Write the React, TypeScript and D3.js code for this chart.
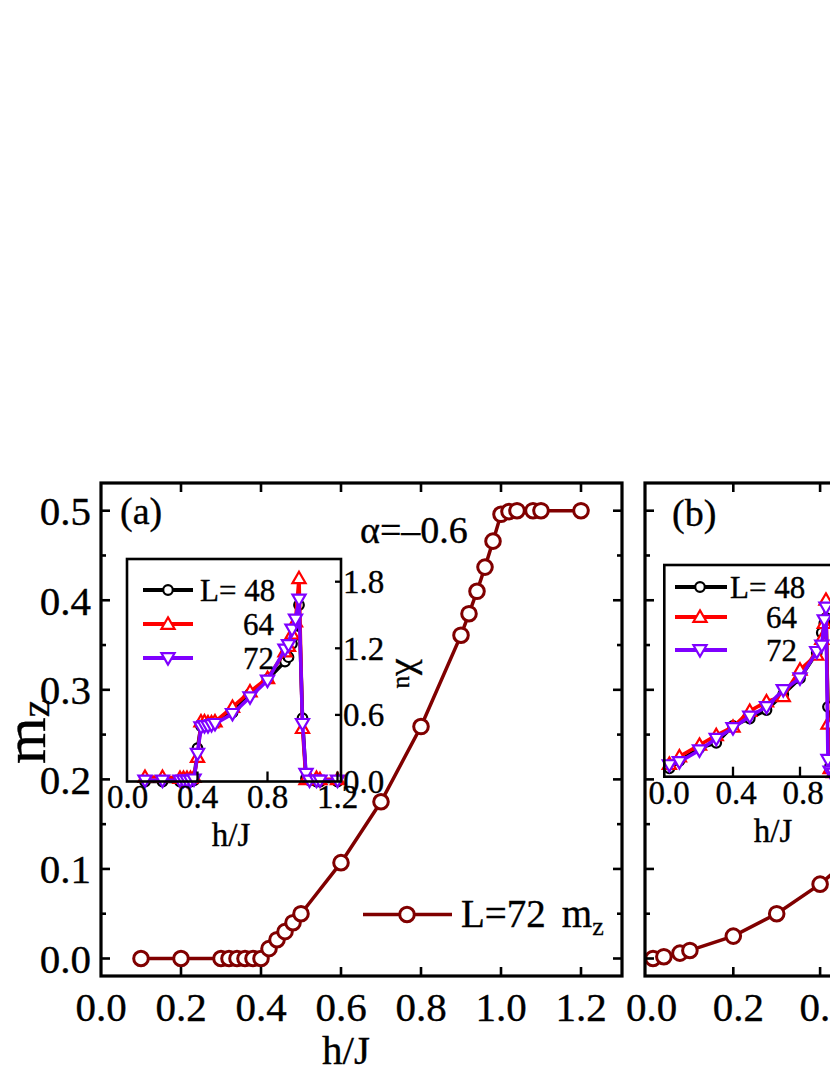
import React from "react";
import * as d3 from "d3";

// ---------- data ----------
const hA = [0.1, 0.2, 0.3, 0.32, 0.34, 0.36, 0.38, 0.4, 0.42, 0.44, 0.46, 0.48, 0.5, 0.6, 0.7, 0.8, 0.9, 0.92, 0.94, 0.96, 0.98, 1.0, 1.02, 1.04, 1.08, 1.1, 1.2];
const mzA = [0, 0, 0, 0, 0, 0, 0, 0, 0.011, 0.021, 0.03, 0.04, 0.05, 0.107, 0.175, 0.259, 0.361, 0.385, 0.41, 0.437, 0.466, 0.496, 0.499, 0.5, 0.5, 0.5, 0.5];
const chiA48 = [0, 0, 0, 0, 0, 0, 0.01, 0.3, 0.5, 0.51, 0.52, 0.52, 0.53, 0.62, 0.79, 0.92, 1.08, 1.12, 1.24, 1.32, 1.59, 0.57, 0.03, 0.01, 0, 0, 0];
const chiA64 = [0.04, 0.04, 0.03, 0.03, 0.03, 0.03, 0.04, 0.22, 0.54, 0.54, 0.53, 0.53, 0.54, 0.67, 0.81, 0.93, 1.17, 1.22, 1.33, 1.44, 1.83, 0.48, 0.02, 0.03, 0.03, 0.02, 0.02];
const chiA72 = [0.01, 0.01, 0.01, 0.01, 0.01, 0.01, 0.02, 0.25, 0.49, 0.5, 0.5, 0.51, 0.52, 0.61, 0.76, 0.91, 1.19, 1.23, 1.37, 1.46, 1.64, 0.52, 0.07, 0.01, 0.01, 0.01, 0.01];

const hB = [0.015, 0.04, 0.077, 0.1, 0.2, 0.3, 0.4, 0.5];
const mzB = [0.0, 0.002, 0.006, 0.009, 0.025, 0.05, 0.083, 0.125];
const hIB = [0.02, 0.08, 0.2, 0.3, 0.4, 0.5, 0.6, 0.7, 0.8, 0.9, 0.93, 0.945, 0.955, 0.967, 0.98, 1.0, 1.1, 1.2];
const chiB48 = [0.08, 0.15, 0.27, 0.32, 0.48, 0.55, 0.63, 0.78, 0.93, 1.17, 1.36, 1.45, 1.5, 0.66, 0.1, 0.04, 0.02, 0.02];
const chiB64 = [0.12, 0.19, 0.3, 0.39, 0.47, 0.62, 0.71, 0.76, 1.01, 1.15, 1.3, 1.45, 1.67, 0.5, 0.08, 0.04, 0.02, 0.02];
const chiB72 = [0.11, 0.14, 0.25, 0.36, 0.46, 0.57, 0.66, 0.82, 0.93, 1.18, 1.24, 1.48, 1.6, 0.16, 0.05, 0.03, 0.02, 0.02];

const mainYTicks = [0, 0.1, 0.2, 0.3, 0.4, 0.5];
const mainYMinor = [0.05, 0.15, 0.25, 0.35, 0.45];
const mainXTicksA = [0.0, 0.2, 0.4, 0.6, 0.8, 1.0, 1.2];
const mainXTicksB = [0.0, 0.2, 0.4, 0.6];
const insetXTicks = [0.0, 0.4, 0.8, 1.2];
const insetYTicks = [0.0, 0.6, 1.2, 1.8];
const legendSizes = ["L= 48", "64", "72"];

// ---------- style ----------
const FONT = "'Liberation Serif', 'Times New Roman', serif";
const DARK = "#800000";
const COLS = ["#000000", "#ff0000", "#7f00ff"];

const triPath = d3.symbol(d3.symbolTriangle, 75)() as string;

function Marker({ kind, x, y, color }: { kind: number; x: number; y: number; color: string }) {
  if (kind === 0) return <circle cx={x} cy={y} r={4.8} fill="#fff" stroke={color} strokeWidth={2.2} />;
  const rot = kind === 2 ? 180 : 0;
  return <path d={triPath} transform={`translate(${x},${y + (kind === 2 ? -1 : 1)}) rotate(${rot})`} fill="#fff" stroke={color} strokeWidth={2.2} />;
}

export default function App() {
  const aL = 101, aR = 622, top = 483, bot = 976;
  const xA = d3.scaleLinear().domain([0, 1.3]).range([101, 621]);
  const yM = d3.scaleLinear().domain([0, 0.5]).range([958.5, 510.7]);
  const bL = 645, bR = 1166;
  const xB = d3.scaleLinear().domain([0, 0.2]).range([646.5, 733.3]);
  const iaL = 127, iaR = 341, iaT = 559, iaB = 781.5;
  const xIA = d3.scaleLinear().domain([0, 1.2]).range([127.5, 337.5]);
  const yIA = d3.scaleLinear().domain([0, 1.8]).range([781.5, 581.7]);
  const ibL = 664.3, ibR = 878, ibT = 565, ibB = 776.7;
  const xIB = d3.scaleLinear().domain([0, 0.4]).range([666, 733]);
  const yIB = d3.scaleLinear().domain([0, 2]).range([776.7, 565]);

  const lineA = d3.line<number>().x((_, i) => xA(hA[i])).y((d) => yM(d));
  const lineB = d3.line<number>().x((_, i) => xB(hB[i])).y((d) => yM(d));
  const lineIA = d3.line<number>().x((_, i) => xIA(hA[i])).y((d) => yIA(d));
  const lineIB = d3.line<number>().x((_, i) => xIB(hIB[i])).y((d) => yIB(d));

  const seriesA = [chiA48, chiA64, chiA72];
  const seriesB = [chiB48, chiB64, chiB72];

  const mainYTickMarks = (xl: number, xr: number | null) => (
    <g stroke="#000" strokeWidth={2.6}>
      {mainYTicks.map((t) => (
        <g key={"M" + t}>
          <line x1={xl} x2={xl + 9} y1={yM(t)} y2={yM(t)} />
          {xr !== null && <line x1={xr} x2={xr - 9} y1={yM(t)} y2={yM(t)} />}
        </g>
      ))}
      {mainYMinor.map((t) => (
        <g key={"m" + t}>
          <line x1={xl} x2={xl + 5} y1={yM(t)} y2={yM(t)} />
          {xr !== null && <line x1={xr} x2={xr - 5} y1={yM(t)} y2={yM(t)} />}
        </g>
      ))}
    </g>
  );

  const txt = { stroke: "#000", strokeWidth: 0.35 };

  return (
    <svg width={830} height={1075} style={{ position: "absolute", left: 0, top: 0, background: "#fff" }} fontFamily={FONT}>
      <rect x={0} y={0} width={830} height={1075} fill="#fff" />

      {/* ================= panel (a) ================= */}
      <g>
        <path d={lineA(mzA) as string} fill="none" stroke={DARK} strokeWidth={3.5} />
        {mzA.map((v, i) => (
          <circle key={i} cx={xA(hA[i])} cy={yM(v)} r={7.3} fill="#fff" stroke={DARK} strokeWidth={3} />
        ))}

        <rect x={aL} y={top} width={aR - aL} height={bot - top} fill="none" stroke="#000" strokeWidth={3.2} />
        {mainYTickMarks(aL, aR)}
        <g stroke="#000" strokeWidth={2.6}>
          {mainXTicksA.slice(1).map((t) => (
            <g key={t}>
              <line x1={xA(t)} x2={xA(t)} y1={bot} y2={bot - 9} />
              <line x1={xA(t)} x2={xA(t)} y1={top} y2={top + 9} />
            </g>
          ))}
        </g>
        <g fontSize={41} fill="#000" {...txt}>
          {mainYTicks.map((t) => (
            <text key={t} x={91} y={yM(t)} dy="0.35em" textAnchor="end">{t.toFixed(1)}</text>
          ))}
          {mainXTicksA.map((t) => (
            <text key={t} x={xA(t)} y={1021} textAnchor="middle">{t.toFixed(1)}</text>
          ))}
        </g>
        <text x={346} y={1064} fontSize={41} textAnchor="middle" {...txt}>h/J</text>
        <text transform="translate(45,764) rotate(-90)" fontSize={60} {...txt}>
          m<tspan fontSize={40} dy={4}>z</tspan>
        </text>
        <text x={120} y={524} fontSize={38} {...txt}>(a)</text>
        <text x={360} y={543} fontSize={38} {...txt}>α=–0.6</text>

        {/* main legend */}
        <line x1={363} x2={452} y1={914.5} y2={914.5} stroke={DARK} strokeWidth={3.5} />
        <circle cx={407} cy={914.5} r={7.3} fill="#fff" stroke={DARK} strokeWidth={3} />
        <text x={461} y={927} fontSize={39} {...txt}>
          L=72<tspan dx={16}>m</tspan><tspan fontSize={26} dy={8}>z</tspan>
        </text>

        {/* inset (a) */}
        <rect x={iaL} y={iaT} width={iaR - iaL} height={iaB - iaT} fill="#fff" />
        {seriesA.map((s, k) => (
          <g key={k}>
            <path d={lineIA(s) as string} fill="none" stroke={COLS[k]} strokeWidth={3.6} />
            {s.map((v, i) => (
              <Marker key={i} kind={k} x={xIA(hA[i])} y={yIA(v)} color={COLS[k]} />
            ))}
          </g>
        ))}
        <rect x={iaL} y={iaT} width={iaR - iaL} height={iaB - iaT} fill="none" stroke="#000" strokeWidth={2.6} />
        <g stroke="#000" strokeWidth={2.3}>
          {insetXTicks.slice(1).map((t) => (
            <line key={t} x1={xIA(t)} x2={xIA(t)} y1={iaB} y2={iaB - 10} />
          ))}
          {insetYTicks.slice(1).map((t) => (
            <line key={t} x1={iaR} x2={iaR - 6} y1={yIA(t)} y2={yIA(t)} />
          ))}
        </g>
        <g fontSize={33} fill="#000" {...txt}>
          {insetXTicks.map((t) => (
            <text key={t} x={xIA(t)} y={808} textAnchor="middle">{t.toFixed(1)}</text>
          ))}
          {insetYTicks.map((t) => (
            <text key={t} x={343} y={yIA(t)} dy="0.35em">{t.toFixed(1)}</text>
          ))}
        </g>
        <text x={231} y={846} fontSize={33} textAnchor="middle" {...txt}>h/J</text>
        <text transform="translate(404,659) rotate(90)" fontSize={38} {...txt}>
          χ<tspan fontSize={25} dy={7}>u</tspan>
        </text>
        {legendSizes.map((lab, k) => {
          const ly = [590, 624, 658][k];
          return (
            <g key={k}>
              <line x1={143} x2={193} y1={ly} y2={ly} stroke={COLS[k]} strokeWidth={3.8} />
              <Marker kind={k} x={168} y={ly} color={COLS[k]} />
              <text x={k === 0 ? 200 : 243} y={ly} dy="0.35em" fontSize={31} {...txt}>{lab}</text>
            </g>
          );
        })}
      </g>

      {/* ================= panel (b) ================= */}
      <g>
        <path d={lineB(mzB) as string} fill="none" stroke={DARK} strokeWidth={3.5} />
        {mzB.map((v, i) => (
          <circle key={i} cx={xB(hB[i])} cy={yM(v)} r={7.3} fill="#fff" stroke={DARK} strokeWidth={3} />
        ))}
        <rect x={bL} y={top} width={bR - bL} height={bot - top} fill="none" stroke="#000" strokeWidth={3.2} />
        {mainYTickMarks(bL, null)}
        <g stroke="#000" strokeWidth={2.6}>
          {mainXTicksB.slice(1).map((t) => (
            <g key={t}>
              <line x1={xB(t)} x2={xB(t)} y1={bot} y2={bot - 9} />
              <line x1={xB(t)} x2={xB(t)} y1={top} y2={top + 9} />
            </g>
          ))}
        </g>
        <g fontSize={41} fill="#000" {...txt}>
          {mainXTicksB.map((t) => (
            <text key={t} x={xB(t) + 5} y={1021} textAnchor="middle">{t.toFixed(1)}</text>
          ))}
        </g>
        <text x={672} y={526} fontSize={38} {...txt}>(b)</text>

        {/* inset (b) */}
        <rect x={ibL} y={ibT} width={ibR - ibL} height={ibB - ibT} fill="#fff" />
        {seriesB.map((s, k) => (
          <g key={k}>
            <path d={lineIB(s) as string} fill="none" stroke={COLS[k]} strokeWidth={3.6} />
            {s.map((v, i) => (
              <Marker key={i} kind={k} x={xIB(hIB[i])} y={yIB(v)} color={COLS[k]} />
            ))}
          </g>
        ))}
        <rect x={ibL} y={ibT} width={ibR - ibL} height={ibB - ibT} fill="none" stroke="#000" strokeWidth={2.6} />
        <g stroke="#000" strokeWidth={2.3}>
          {insetXTicks.slice(1).map((t) => (
            <line key={t} x1={xIB(t)} x2={xIB(t)} y1={ibB} y2={ibB - 10} />
          ))}
        </g>
        <g fontSize={33} fill="#000" {...txt}>
          {insetXTicks.map((t) => (
            <text key={t} x={xIB(t) + 3} y={804} textAnchor="middle">{t.toFixed(1)}</text>
          ))}
        </g>
        <text x={773} y={842} fontSize={33} textAnchor="middle" {...txt}>h/J</text>
        {legendSizes.map((lab, k) => {
          const ly = [587, 617, 650][k];
          return (
            <g key={k}>
              <line x1={675} x2={727} y1={ly} y2={ly} stroke={COLS[k]} strokeWidth={3.8} />
              <Marker kind={k} x={700} y={ly} color={COLS[k]} />
              <text x={k === 0 ? 730 : 766} y={ly} dy="0.35em" fontSize={31} {...txt}>{lab}</text>
            </g>
          );
        })}
      </g>
    </svg>
  );
}
